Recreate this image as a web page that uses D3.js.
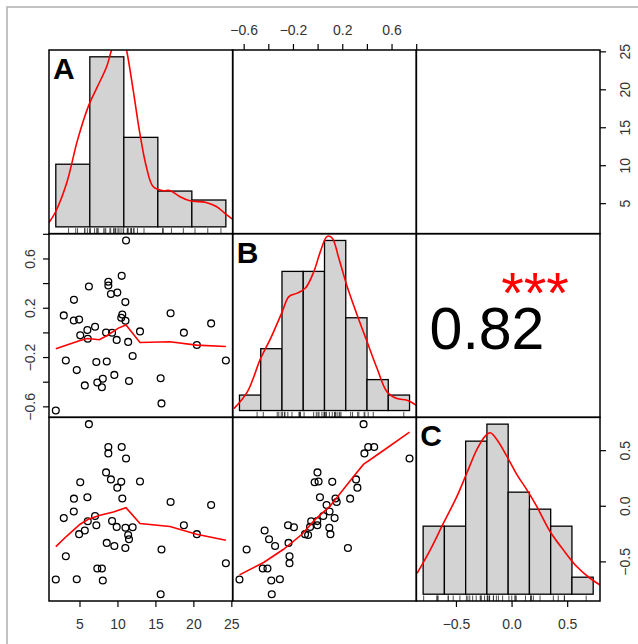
<!DOCTYPE html>
<html lang="en">
<head>
<meta charset="UTF-8">
<title>Correlation matrix</title>
<script src="https://cdn.jsdelivr.net/npm/d3@7"></script>
<style>
    body { margin: 0; background: #fff; }
    text { font-family: "Liberation Sans", Arial, Helvetica, sans-serif; }
</style>
</head>
<body>
<svg id="main" width="638" height="644"></svg>
<script>
    const varNames = ['A', 'B', 'C'];
    const valuesA = [11.13, 10.56, 8.8, 8.8, 6.24, 9.98, 9.14, 4.27, 11.04, 17.0, 2.93, 10.64, 10.5, 11.06, 4.25,
        4.95, 22.34, 7.05, 6.04, 12.97, 18.75, 8.5, 9.29, 5.1, 6.09, 9.9, 11.41, 20.46, 12.0, 3.2, 24.28, 7.22, 8.59,
        4.64, 9.59, 15.69, 11.52, 8.07, 7.35, 5.7, 7.95, 15.8, 1.88];
    const valuesB = [0.746, 0.459, 0.411, 0.380, 0.373, 0.323, 0.312, 0.264, 0.246, 0.155, 0.138, 0.145, 0.119, 0.095,
        0.097, 0.104, 0.073, 0.046, 0.019, 0.008, -0.002, -0.001, -0.003, -0.024, -0.052, -0.061, -0.077, -0.102,
        -0.192, -0.228, -0.228, -0.240, -0.236, -0.306, -0.345, -0.372, -0.394, -0.376, -0.407, -0.430, -0.445,
        -0.576, -0.634];
    const valuesC = [0.425, 0.529, 0.529, 0.471, 0.734, 0.163, 0.237, 0.064, -0.379, 0.034, -0.111, 0.066, 0.215,
        -0.197, -0.052, -0.255, 0.007, -0.092, 0.076, 0.218, -0.175, 0.300, -0.138, 0.211, -0.139, -0.190, -0.263,
        -0.255, -0.193, -0.454, -0.517, -0.175, -0.334, -0.660, -0.361, -0.795, -0.301, -0.672, -0.564, -0.222,
        -0.564, -0.393, -0.663];

    // histogram breaks
    const breaksA = [0, 5, 10, 15, 20, 25];
    const breaksB = [-0.8, -0.6, -0.4, -0.2, 0, 0.2, 0.4, 0.6, 0.8];
    const breaksC = [-0.8, -0.6, -0.4, -0.2, 0, 0.2, 0.4, 0.6, 0.8];

    // density curves [value, density]
    const densityA = [[-1, 0.0023], [-0.12, 0.0072], [1.6, 0.0228], [3.2, 0.0452], [4.77, 0.0625], [6.0, 0.072],
        [7.47, 0.0832], [8.2, 0.0919], [8.8, 0.097], [9.4, 0.1], [10.0, 0.097], [10.4, 0.0919], [11.37, 0.0712],
        [12.35, 0.0487], [13.3, 0.0314], [14.3, 0.021], [15.8, 0.0188], [16.75, 0.0189], [18.2, 0.0158],
        [19.7, 0.0136], [22.1, 0.0127], [23.6, 0.0106], [24.8, 0.0072], [25.9, 0.0041]];
    const densityB = [[-0.852, 0.014], [-0.726, 0.14], [-0.601, 0.392], [-0.507, 0.543], [-0.397, 0.744],
        [-0.335, 0.857], [-0.256, 0.883], [-0.179, 0.921], [-0.1, 1.046], [-0.038, 1.197], [0.025, 1.31],
        [0.072, 1.298], [0.134, 1.147], [0.213, 0.933], [0.307, 0.719], [0.401, 0.517], [0.495, 0.316],
        [0.589, 0.14], [0.682, 0.09], [0.776, 0.077], [0.864, 0.039]];
    const densityC = [[-0.857, 0.143], [-0.733, 0.303], [-0.608, 0.487], [-0.482, 0.669], [-0.388, 0.83],
        [-0.294, 0.99], [-0.216, 1.081], [-0.169, 1.104], [-0.107, 1.058], [-0.013, 0.944], [0.082, 0.818],
        [0.175, 0.715], [0.269, 0.6], [0.394, 0.429], [0.519, 0.303], [0.645, 0.189], [0.77, 0.109], [0.864, 0.063]];

    // smoother lines [x, y]
    const smoothAB = [[1.88, -0.133], [5.08, -0.065], [6.04, -0.049], [7.62, -0.06], [8.59, -0.027], [10.12, 0.035],
        [11.13, 0.06], [12.97, -0.082], [16.92, -0.076], [20.42, -0.103], [24.28, -0.114]];
    const smoothAC = [[1.88, -0.367], [3.33, -0.272], [5.08, -0.166], [6.17, -0.122], [7.71, -0.086], [9.46, -0.056],
        [11.13, -0.017], [12.97, -0.16], [16.92, -0.187], [20.42, -0.256], [24.28, -0.31]];
    const smoothBC = [[-0.634, -0.621], [-0.438, -0.51], [-0.276, -0.391], [-0.127, -0.256], [-0.019, -0.122],
        [0.102, -0.002], [0.21, 0.148], [0.305, 0.282], [0.372, 0.372], [0.508, 0.477], [0.746, 0.662]];

    const corrBC = '0.82';
    const starsBC = '***';

    // axis ticks and the ticks that carry a label
    const ticksA = [5, 10, 15, 20, 25];
    const ticksB = [-0.6, -0.4, -0.2, 0, 0.2, 0.4, 0.6, 0.8];
    const labelsB = [-0.6, -0.2, 0.2, 0.6];
    const ticksC = [-0.5, 0, 0.5];

    let svg = d3.select('svg#main');
    let leftX = 49, topY = 50, cell = 551 / 3;
    let vars = [valuesA, valuesB, valuesC];
    let breaks = [breaksA, breaksB, breaksC];
    let densities = [densityA, densityB, densityC];
    let smooths = {'1-0': smoothAB, '2-0': smoothAC, '2-1': smoothBC};

    function pad(ext) {
        let d = (ext[1] - ext[0]) * 0.04;
        return [ext[0] - d, ext[1] + d];
    }

    let xs = vars.map((v, k) => d3.scaleLinear().domain(pad(d3.extent(v)))
        .range([leftX + k * cell, leftX + (k + 1) * cell]));
    let ys = vars.map((v, k) => d3.scaleLinear().domain(pad(d3.extent(v)))
        .range([topY + (k + 1) * cell, topY + k * cell]));

    // grey outer frame
    svg.append('rect').attr('x', 7).attr('y', 7).attr('width', 700).attr('height', 700)
        .attr('fill', 'none').attr('stroke', '#b4b4b4').attr('stroke-width', 1.6);

    let defs = svg.append('defs');
    for (let i = 0; i < 3; i++) {
        for (let j = 0; j < 3; j++) {
            defs.append('clipPath').attr('id', 'c' + i + j).append('rect')
                .attr('x', leftX + j * cell).attr('y', topY + i * cell)
                .attr('width', cell).attr('height', cell);
        }
    }

    // diagonal: histogram, density, rug, name
    vars.forEach((v, k) => {
        let x0 = leftX + k * cell, y0 = topY + k * cell;
        let br = breaks[k];
        let bins = d3.pairs(br).map(([lo, hi], i) => {
            let n = v.filter(d => (i === 0 ? d >= lo : d > lo) && d <= hi).length;
            return {lo: lo, hi: hi, density: n / (v.length * (hi - lo))};
        });
        let hx = d3.scaleLinear().domain(pad([br[0], br[br.length - 1]])).range([x0, x0 + cell]);
        let hy = d3.scaleLinear().domain(pad([0, d3.max(bins, b => b.density)])).range([y0 + cell, y0]);
        let g = svg.append('g').attr('clip-path', 'url(#c' + k + k + ')');

        g.selectAll('rect.bar').data(bins).enter().append('rect')
            .attr('class', 'bar')
            .attr('x', b => hx(b.lo))
            .attr('y', b => hy(b.density))
            .attr('width', b => hx(b.hi) - hx(b.lo))
            .attr('height', b => hy(0) - hy(b.density))
            .attr('fill', '#d3d3d3').attr('stroke', '#000').attr('stroke-width', 1.3);

        g.selectAll('line.rug').data(v).enter().append('line')
            .attr('class', 'rug')
            .attr('x1', d => hx(d)).attr('x2', d => hx(d))
            .attr('y1', y0 + cell).attr('y2', y0 + cell * 0.97)
            .attr('stroke', '#222').attr('stroke-width', 0.8);

        g.append('path').datum(densities[k])
            .attr('d', d3.line().x(d => hx(d[0])).y(d => hy(d[1])).curve(d3.curveCatmullRom))
            .attr('fill', 'none').attr('stroke', '#ff0000').attr('stroke-width', 1.6);

        svg.append('text').attr('x', x0 + 4).attr('y', y0 + 29)
            .attr('font-size', 30).attr('font-weight', 'bold').text(varNames[k]);
    });

    // lower panels: scatter + smoother
    for (let i = 1; i < 3; i++) {
        for (let j = 0; j < i; j++) {
            let pts = vars[j].map((d, n) => [d, vars[i][n]]);
            let g = svg.append('g').attr('clip-path', 'url(#c' + i + j + ')');
            g.selectAll('circle').data(pts).enter().append('circle')
                .attr('cx', d => xs[j](d[0])).attr('cy', d => ys[i](d[1])).attr('r', 3.4)
                .attr('fill', 'none').attr('stroke', '#000').attr('stroke-width', 1.3);
            g.append('path').datum(smooths[i + '-' + j])
                .attr('d', d3.line().x(d => xs[j](d[0])).y(d => ys[i](d[1])))
                .attr('fill', 'none').attr('stroke', '#ff0000').attr('stroke-width', 1.6);
        }
    }

    // upper panel B-C: correlation
    svg.append('text').attr('x', 487).attr('y', 348.5).attr('text-anchor', 'middle')
        .attr('font-size', 59).text(corrBC);
    svg.append('text').attr('x', 535).attr('y', 313).attr('text-anchor', 'middle')
        .attr('font-size', 58).attr('fill', '#ff0000').text(starsBC);

    // panel borders
    for (let i = 0; i < 3; i++) {
        for (let j = 0; j < 3; j++) {
            svg.append('rect').attr('x', leftX + j * cell).attr('y', topY + i * cell)
                .attr('width', cell).attr('height', cell)
                .attr('fill', 'none').attr('stroke', '#000').attr('stroke-width', 1.5);
        }
    }

    let fmt = d => d3.format('.1f')(d).replace('-', '\u2212');
    function labelled(list) {
        return d => list.some(l => Math.abs(l - d) < 1e-9) ? fmt(d) : '';
    }

    function styleAxis(g) {
        g.select('.domain').remove();
        g.selectAll('.tick line').attr('stroke', '#000').attr('stroke-width', 1.2);
        g.selectAll('.tick text').attr('fill', '#333').attr('font-size', 14)
            .style('font-family', '"Liberation Sans", Arial, sans-serif');
    }

    // top axis over column B
    svg.append('g').attr('transform', 'translate(0,' + topY + ')')
        .call(d3.axisTop(xs[1]).tickValues(ticksB).tickSize(6).tickPadding(9).tickFormat(labelled(labelsB)))
        .call(styleAxis);

    // bottom axes under columns A and C
    svg.append('g').attr('transform', 'translate(0,' + (topY + 3 * cell) + ')')
        .call(d3.axisBottom(xs[0]).tickValues(ticksA).tickSize(6).tickPadding(12).tickFormat(d3.format('d')))
        .call(styleAxis);
    svg.append('g').attr('transform', 'translate(0,' + (topY + 3 * cell) + ')')
        .call(d3.axisBottom(xs[2]).tickValues(ticksC).tickSize(6).tickPadding(12).tickFormat(fmt))
        .call(styleAxis);

    // right axes for rows A and C, left axis for row B (labels turned)
    function turn(g, shift) {
        g.selectAll('.tick text').attr('x', 0).attr('y', 0).attr('dy', 0)
            .attr('text-anchor', 'middle')
            .attr('transform', 'translate(' + shift + ',0) rotate(-90)');
    }
    svg.append('g').attr('transform', 'translate(' + (leftX + 3 * cell) + ',0)')
        .call(d3.axisRight(ys[0]).tickValues(ticksA).tickSize(6).tickFormat(d3.format('d')))
        .call(styleAxis).call(turn, 30);
    svg.append('g').attr('transform', 'translate(' + (leftX + 3 * cell) + ',0)')
        .call(d3.axisRight(ys[2]).tickValues(ticksC).tickSize(6).tickFormat(fmt))
        .call(styleAxis).call(turn, 30);
    svg.append('g').attr('transform', 'translate(' + leftX + ',0)')
        .call(d3.axisLeft(ys[1]).tickValues(ticksB).tickSize(6).tickFormat(labelled(labelsB)))
        .call(styleAxis).call(turn, -14);
</script>
</body>
</html>
